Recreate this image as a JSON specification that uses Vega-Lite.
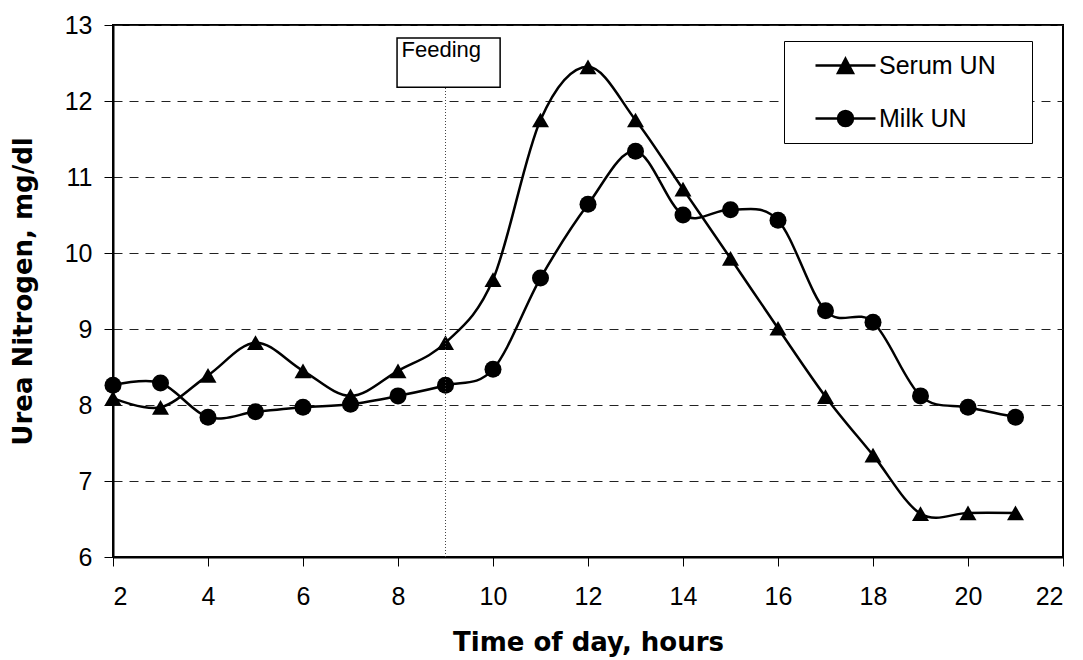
{
  "$schema": "https://vega.github.io/schema/vega-lite/v6.json",
  "autosize": "none",
  "padding": {"left": 113, "top": 25, "right": 20, "bottom": 103},
  "width": 950,
  "height": 532,
  "background": "white",
  "config": {
    "font": "Liberation Sans",
    "view": {"stroke": "black", "strokeWidth": 2},
    "axis": {
      "labelFont": "Liberation Sans",
      "titleFont": "DejaVu Sans",
      "labelColor": "black",
      "titleColor": "black",
      "domainColor": "black",
      "domainWidth": 2,
      "tickColor": "black",
      "tickWidth": 1
    }
  },
  "datasets": {
    "annotation": [{"hour": 9, "label": "Feeding"}]
  },
  "data": {
    "values": [
      {"hour": 2, "series": "Serum UN", "value": 8.09},
      {"hour": 3, "series": "Serum UN", "value": 7.97},
      {"hour": 4, "series": "Serum UN", "value": 8.39},
      {"hour": 5, "series": "Serum UN", "value": 8.82},
      {"hour": 6, "series": "Serum UN", "value": 8.45},
      {"hour": 7, "series": "Serum UN", "value": 8.12},
      {"hour": 8, "series": "Serum UN", "value": 8.45},
      {"hour": 9, "series": "Serum UN", "value": 8.82},
      {"hour": 10, "series": "Serum UN", "value": 9.65},
      {"hour": 11, "series": "Serum UN", "value": 11.75},
      {"hour": 12, "series": "Serum UN", "value": 12.45},
      {"hour": 13, "series": "Serum UN", "value": 11.75},
      {"hour": 14, "series": "Serum UN", "value": 10.84},
      {"hour": 15, "series": "Serum UN", "value": 9.93},
      {"hour": 16, "series": "Serum UN", "value": 9.01},
      {"hour": 17, "series": "Serum UN", "value": 8.11},
      {"hour": 18, "series": "Serum UN", "value": 7.34},
      {"hour": 19, "series": "Serum UN", "value": 6.57},
      {"hour": 20, "series": "Serum UN", "value": 6.58},
      {"hour": 21, "series": "Serum UN", "value": 6.58},
      {"hour": 2, "series": "Milk UN", "value": 8.26},
      {"hour": 3, "series": "Milk UN", "value": 8.29},
      {"hour": 4, "series": "Milk UN", "value": 7.84},
      {"hour": 5, "series": "Milk UN", "value": 7.91},
      {"hour": 6, "series": "Milk UN", "value": 7.97},
      {"hour": 7, "series": "Milk UN", "value": 8.01},
      {"hour": 8, "series": "Milk UN", "value": 8.12},
      {"hour": 9, "series": "Milk UN", "value": 8.26},
      {"hour": 10, "series": "Milk UN", "value": 8.47},
      {"hour": 11, "series": "Milk UN", "value": 9.67},
      {"hour": 12, "series": "Milk UN", "value": 10.64},
      {"hour": 13, "series": "Milk UN", "value": 11.34},
      {"hour": 14, "series": "Milk UN", "value": 10.5},
      {"hour": 15, "series": "Milk UN", "value": 10.57},
      {"hour": 16, "series": "Milk UN", "value": 10.43},
      {"hour": 17, "series": "Milk UN", "value": 9.24},
      {"hour": 18, "series": "Milk UN", "value": 9.09},
      {"hour": 19, "series": "Milk UN", "value": 8.12},
      {"hour": 20, "series": "Milk UN", "value": 7.97},
      {"hour": 21, "series": "Milk UN", "value": 7.84}
    ]
  },
  "layer": [
    {
      "mark": {"type": "line", "interpolate": "cardinal", "color": "black", "strokeWidth": 2.5},
      "encoding": {
        "x": {
          "field": "hour",
          "type": "quantitative",
          "scale": {"domain": [2, 22], "nice": false, "zero": false},
          "axis": {
            "title": "Time of day, hours",
            "values": [2, 4, 6, 8, 10, 12, 14, 16, 18, 20, 22],
            "format": "d",
            "grid": false,
            "labelFontSize": 25,
            "tickSize": 9,
            "labelPadding": 18,
            "titleFontSize": 26,
            "titleFontWeight": "bold",
            "titleBaseline": "alphabetic",
            "titleY": 93
          }
        },
        "y": {
          "field": "value",
          "type": "quantitative",
          "scale": {"domain": [6, 13], "nice": false, "zero": false},
          "axis": {
            "title": "Urea Nitrogen, mg/dl",
            "values": [6, 7, 8, 9, 10, 11, 12, 13],
            "format": "d",
            "grid": true,
            "gridColor": "#222",
            "gridDash": [9, 7],
            "gridWidth": 1,
            "labelFontSize": 25,
            "tickSize": 9,
            "labelPadding": 12,
            "titleFontSize": 26,
            "titleFontWeight": "bold",
            "titleBaseline": "alphabetic",
            "titleX": -82
          }
        },
        "detail": {"field": "series"}
      }
    },
    {
      "mark": {"type": "point", "filled": true, "color": "black", "opacity": 1, "size": 289},
      "encoding": {
        "x": {"field": "hour", "type": "quantitative"},
        "y": {"field": "value", "type": "quantitative"},
        "shape": {
          "field": "series",
          "type": "nominal",
          "scale": {"domain": ["Serum UN", "Milk UN"], "range": ["triangle-up", "circle"]},
          "legend": null
        }
      }
    },
    {
      "data": {"name": "annotation"},
      "mark": {"type": "rule", "color": "#444", "strokeWidth": 1, "strokeDash": [1, 2]},
      "encoding": {
        "x": {"field": "hour", "type": "quantitative"},
        "y": {"datum": 6, "type": "quantitative"},
        "y2": {"datum": 12.18}
      }
    },
    {
      "data": {"name": "annotation"},
      "mark": {"type": "rect", "fill": "white", "stroke": "black", "strokeWidth": 1.5},
      "encoding": {
        "x": {"datum": 7.98, "type": "quantitative"},
        "x2": {"datum": 10.15},
        "y": {"datum": 12.83, "type": "quantitative"},
        "y2": {"datum": 12.18}
      }
    },
    {
      "data": {"name": "annotation"},
      "mark": {"type": "text", "align": "left", "baseline": "alphabetic", "dx": -44, "dy": 32, "fontSize": 22, "color": "black", "font": "Liberation Sans"},
      "encoding": {
        "x": {"field": "hour", "type": "quantitative"},
        "y": {"datum": 13, "type": "quantitative"},
        "text": {"field": "label", "type": "nominal"}
      }
    },
    {
      "mark": {"type": "point", "filled": false, "color": "black", "opacity": 0},
      "encoding": {
        "x": {"field": "hour", "type": "quantitative"},
        "y": {"field": "value", "type": "quantitative"},
        "shape": {
          "field": "series",
          "type": "nominal",
          "scale": {
            "domain": ["Serum UN", "Milk UN"],
            "range": [
              "M-2,0H2M0,-0.45L0.5,0.5L-0.5,0.5ZM-0.06,-0.33H0.06M-0.13,-0.21H0.13M-0.19,-0.09H0.19M-0.25,0.03H0.25M-0.32,0.15H0.32M-0.38,0.27H0.38M-0.44,0.39H0.44",
              "M-2,0H2M-0.5,0A0.5,0.5,0,1,0,0.5,0A0.5,0.5,0,1,0,-0.5,0ZM-0.35,-0.36H0.35M-0.44,-0.24H0.44M-0.49,-0.12H0.49M-0.49,0.12H0.49M-0.44,0.24H0.44M-0.35,0.36H0.35M0,0.72"
            ]
          },
          "legend": {
            "title": " ",
            "titleOrient": "right",
            "titlePadding": 28,
            "titleFontSize": 10,
            "orient": "none",
            "legendX": 671,
            "legendY": 16,
            "padding": 8,
            "strokeColor": "black",
            "fillColor": "white",
            "symbolSize": 900,
            "symbolOffset": 37,
            "symbolStrokeWidth": 2.5,
            "symbolStrokeColor": "black",
            "symbolOpacity": 1,
            "labelOffset": 17,
            "labelFontSize": 25,
            "labelColor": "black",
            "labelFont": "Liberation Sans",
            "rowPadding": 23
          }
        }
      }
    }
  ],
  "resolve": {"scale": {"shape": "independent"}}
}
